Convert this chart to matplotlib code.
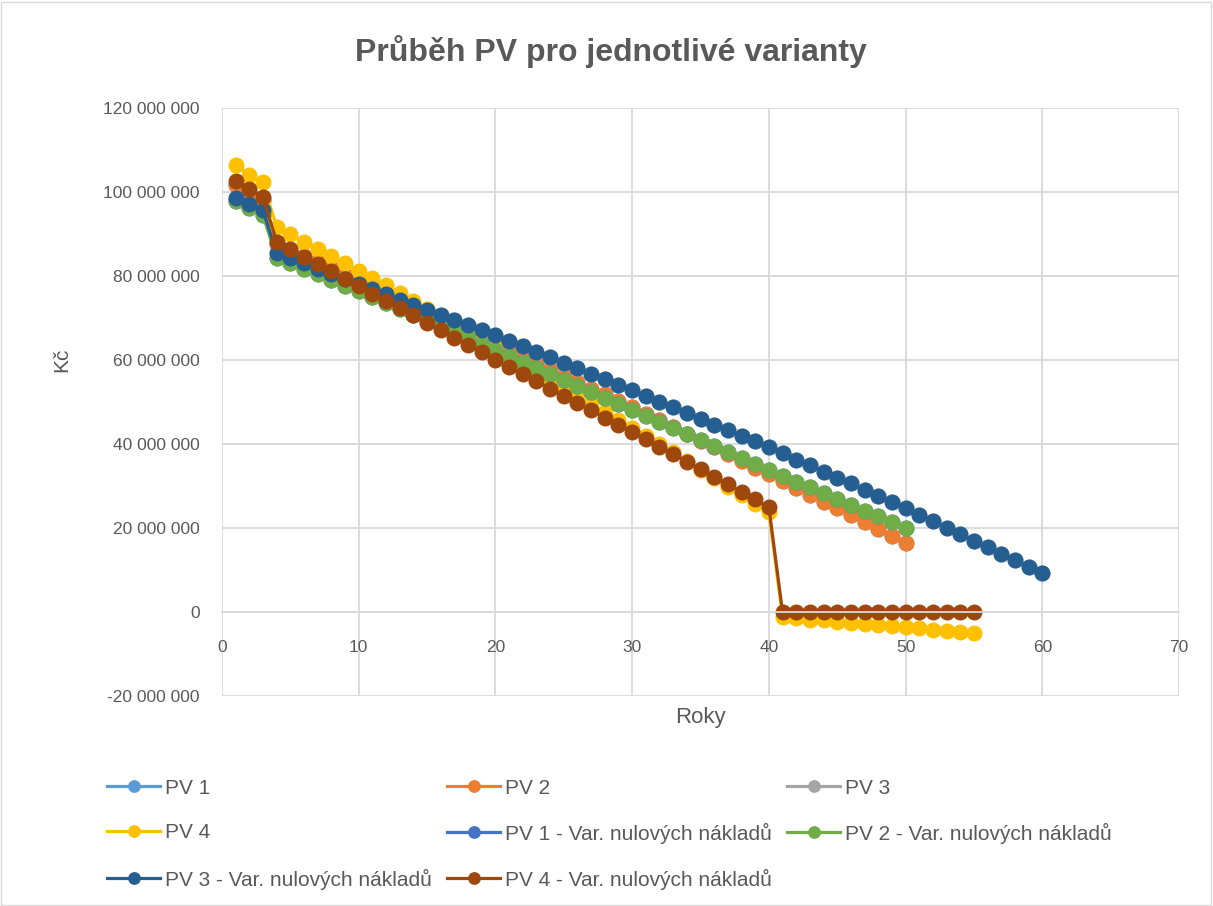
import matplotlib
matplotlib.use("Agg")
import matplotlib.pyplot as plt
from matplotlib.ticker import FuncFormatter
from matplotlib.patches import Rectangle

plt.rcParams['font.family'] = ['Liberation Sans', 'DejaVu Sans']

# values in millions of Kč
pv2 = [101.6, 99.9, 98.2, 87.6, 86.2, 84.7, 83.3, 81.8, 80.3, 78.8,
       77.3, 75.8, 74.3, 72.8, 71.3, 69.7, 68.2, 66.7, 65.1, 63.6,
       62.1, 60.6, 59.1, 57.6, 56.2, 54.7, 53.2, 51.8, 50.3, 48.8,
       47.2, 45.6, 44.0, 42.4, 40.8, 39.2, 37.6, 36.0, 34.4, 32.8,
       31.2, 29.5, 27.9, 26.3, 24.7, 23.0, 21.4, 19.7, 18.1, 16.4]
pv4 = [106.4, 104.1, 102.3, 91.6, 89.9, 88.1, 86.4, 84.7, 83.0, 81.2,
       79.5, 77.8, 76.0, 74.1, 72.2, 70.3, 68.5, 66.6, 64.7, 62.8,
       60.9, 59.0, 57.1, 55.2, 53.3, 51.4, 49.5, 47.6, 45.7, 43.9,
       42.0, 40.0, 38.0, 36.0, 33.9, 31.8, 29.8, 27.8, 25.8, 23.8,
       -1.2, -1.5, -1.8, -2.0, -2.3, -2.6, -2.8, -3.1, -3.4, -3.6,
       -3.9, -4.2, -4.5, -4.7, -5.0]
pv2_var = [97.8, 96.3, 94.6, 84.4, 83.1, 81.7, 80.4, 79.1, 77.7, 76.4,
           75.0, 73.6, 72.2, 70.8, 69.4, 68.0, 66.6, 65.2, 63.8, 62.4,
           61.0, 59.5, 58.1, 56.7, 55.2, 53.8, 52.4, 50.9, 49.5, 48.1,
           46.7, 45.2, 43.8, 42.4, 40.9, 39.5, 38.1, 36.7, 35.2, 33.8,
           32.4, 31.0, 29.7, 28.3, 26.9, 25.5, 24.1, 22.8, 21.4, 20.0]
pv3_var = [98.6, 97.2, 95.6, 85.4, 84.2, 83.0, 81.7, 80.5, 79.3, 78.1,
           76.9, 75.6, 74.4, 73.2, 72.0, 70.8, 69.5, 68.3, 67.1, 65.9,
           64.6, 63.3, 62.0, 60.7, 59.4, 58.0, 56.7, 55.4, 54.1, 52.8,
           51.4, 50.1, 48.7, 47.4, 46.0, 44.6, 43.3, 41.9, 40.6, 39.2,
           37.8, 36.3, 34.9, 33.4, 32.0, 30.6, 29.1, 27.7, 26.2, 24.8,
           23.2, 21.7, 20.1, 18.6, 17.0, 15.5, 13.9, 12.4, 10.8, 9.3]
pv4_var = [102.6, 100.7, 98.8, 88.1, 86.4, 84.6, 82.9, 81.1, 79.4, 77.6,
           75.8, 74.1, 72.3, 70.6, 68.8, 67.1, 65.3, 63.5, 61.8, 60.0,
           58.3, 56.6, 54.9, 53.2, 51.5, 49.7, 48.0, 46.3, 44.6, 42.9,
           41.1, 39.4, 37.6, 35.8, 34.0, 32.2, 30.4, 28.6, 26.8, 25.0,
           0, 0, 0, 0, 0, 0, 0, 0, 0, 0, 0, 0, 0, 0, 0]
# hidden under the other series in the picture
pv1 = list(pv2)
pv3 = list(pv3_var)
pv1_var = list(pv2_var)

names = ["PV 1", "PV 2", "PV 3", "PV 4",
         "PV 1 - Var. nulových nákladů", "PV 2 - Var. nulových nákladů",
         "PV 3 - Var. nulových nákladů", "PV 4 - Var. nulových nákladů"]
series = [pv1, pv2, pv3, pv4, pv1_var, pv2_var, pv3_var, pv4_var]
colors = ["#5B9BD5", "#ED7D31", "#A5A5A5", "#FFC000",
          "#4472C4", "#70AD47", "#255E91", "#9E480E"]

W, H = 1213, 906
fig = plt.figure(figsize=(W / 100, H / 100), dpi=100)
ax = fig.add_axes([222 / W, 1 - 696 / H, (1179 - 222) / W, (696 - 108) / H])

handles = []
for name, vals, c in zip(names, series, colors):
    yrs = list(range(1, len(vals) + 1))
    h, = ax.plot(yrs, [v * 1e6 for v in vals], color=c, lw=2.3, marker='o',
                 markersize=11.5, markeredgewidth=0, label=name)
    handles.append(h)

ax.set_xlim(0, 70)
ax.set_ylim(-20e6, 120e6)
ax.set_xticks(range(0, 71, 10))
ax.set_yticks(range(-20_000_000, 120_000_001, 20_000_000))
ax.yaxis.set_major_formatter(FuncFormatter(lambda v, p: f"{int(v):,}".replace(",", " ")))
ax.grid(True, color="#D9D9D9", lw=1.3)
ax.set_axisbelow(True)
for s in ["top", "right", "left"]:
    ax.spines[s].set_visible(False)
ax.spines["bottom"].set_position(("data", 0))
ax.spines["bottom"].set_color("#D9D9D9")
ax.spines["bottom"].set_linewidth(1.3)
ax.tick_params(axis="both", length=0, colors="#595959", labelsize=12)
ax.tick_params(axis="y", pad=16)
ax.tick_params(axis="x", pad=20)
for t in ax.get_xticklabels() + ax.get_yticklabels():
    t.set_fontsize(12.5)

fig.text(611 / W, 1 - 52 / H, "Průběh PV pro jednotlivé varianty", ha="center",
         va="center", fontsize=23, fontweight="bold", color="#595959")
fig.text(62 / W, 1 - 360 / H, "Kč", rotation=90, ha="center", va="center",
         fontsize=15, color="#595959")
fig.text(700 / W, 1 - 718 / H, "Roky", ha="center", va="center",
         fontsize=16, color="#595959")

# legend laid out like Excel: three columns, row by row
leg_x = [107, 447, 787]
leg_y = [788, 833, 879]
for i, (h, name) in enumerate(zip(handles, names)):
    col, row = i % 3, i // 3
    fs = 15
    leg = fig.legend([h], [name], loc="center left",
                     bbox_to_anchor=(leg_x[col] / W, 1 - leg_y[row] / H),
                     frameon=False, fontsize=fs, labelcolor="#595959",
                     handlelength=53 / (fs * 100 / 72), handletextpad=0.25,
                     borderpad=0, borderaxespad=0, markerscale=0.8)

fig.patches.append(Rectangle((0.001, 0.001), 0.997, 0.997, transform=fig.transFigure,
                             fill=False, edgecolor="#D9D9D9", lw=1))

fig.savefig("out.png", dpi=100)
